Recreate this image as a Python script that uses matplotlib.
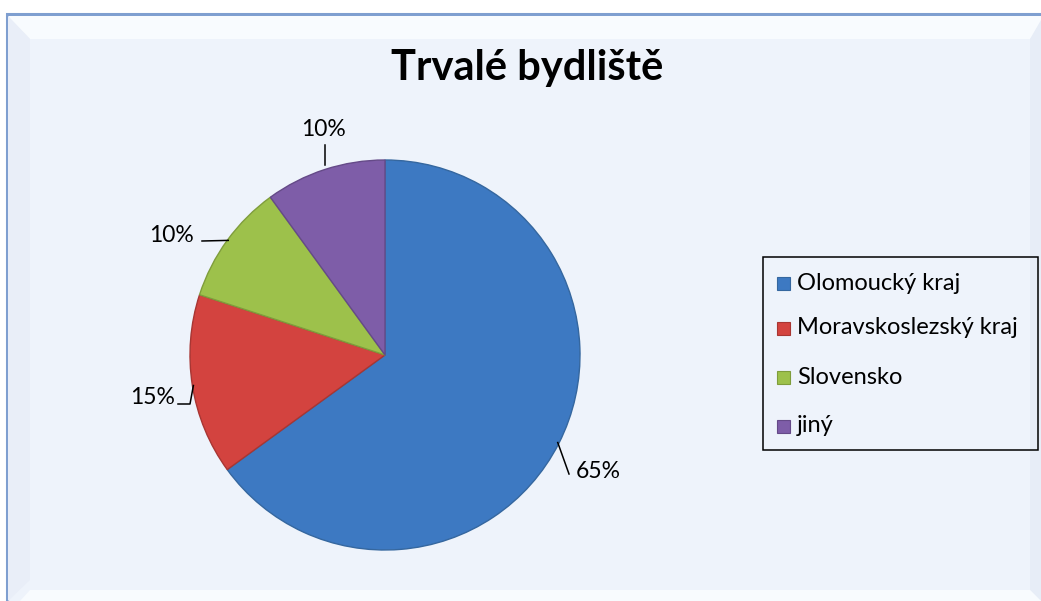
import numpy as np
import matplotlib
matplotlib.use("Agg")
import matplotlib.pyplot as plt
from matplotlib.patches import Rectangle, Polygon

# ---- data ----
title = "Trvalé bydliště"
categories = ["Olomoucký kraj", "Moravskoslezský kraj", "Slovensko", "jiný"]
values = [65, 15, 10, 10]
labels = ["65%", "15%", "10%", "10%"]
colors = ["#3d79c2", "#d3433f", "#9dc14b", "#7e5da8"]
edge_colors = ["#35679f", "#a83633", "#7f9d3c", "#654a88"]

plt.rcParams['font.family'] = ['Lato', 'DejaVu Sans']

W, H = 1041, 601
fig = plt.figure(figsize=(W / 100, H / 100), dpi=100)
fig.patch.set_facecolor("white")
ax = fig.add_axes([0, 0, 1, 1])

# pie
cx, cy, r = 385, 355, 195
wedges, _ = ax.pie(values, colors=colors, startangle=-90, counterclock=True,
                   center=(cx, cy), radius=r, frame=True,
                   wedgeprops=dict(linewidth=1.0, zorder=2))
# y axis is inverted -> counterclock in data = clockwise on screen; start at top
for w, ec in zip(wedges, edge_colors):
    w.set_edgecolor(ec)
ax.set_aspect("equal")
ax.set_xlim(0, W)
ax.set_ylim(H, 0)
ax.axis("off")

# frame and bevel
bg = "#eef3fb"
ax.add_patch(Rectangle((7, 14), W + 10, H, facecolor=bg, edgecolor="#7f9fd0", lw=2.2, zorder=0))
ax.add_patch(Polygon([(8, 16), (W + 5, 16), (W + 5, 23), (1030, 39), (30, 39)],
                     closed=True, facecolor="#f8fbfe", edgecolor="none", zorder=0.5))
ax.add_patch(Polygon([(8, 16), (30, 39), (30, 580), (8, 601)],
                     closed=True, facecolor="#e9eef8", edgecolor="none", zorder=0.5))
ax.add_patch(Polygon([(W, 20), (1030, 39), (1030, 590), (W, 601)],
                     closed=True, facecolor="#e7edf7", edgecolor="none", zorder=0.5))
ax.add_patch(Polygon([(30, 590), (1030, 590), (W, 601), (20, 601)],
                     closed=True, facecolor="#f8fbfe", edgecolor="none", zorder=0.5))

# title
ax.text(527, 80, title, ha="center", va="baseline", fontsize=30, fontweight="bold", color="black")

# labels
text_pos = [(598, 471), (153, 397), (171, 236), (323, 130)]
for lab, tp in zip(labels, text_pos):
    ax.text(tp[0], tp[1], lab, ha="center", va="center", fontsize=16.5, color="black")

# leader lines (from wedge mid-edge to label)
def mid(i):
    wdg = wedges[i]
    ang = np.deg2rad((wdg.theta1 + wdg.theta2) / 2)
    return cx + r * np.cos(ang), cy + r * np.sin(ang)

x0, y0 = mid(0)
ax.plot([x0 - 1, 569], [y0 - 1, 474], color="black", lw=1.1, zorder=3)
x1, y1 = mid(1)
ax.plot([x1 + 1, 190, 178], [y1, 404, 404], color="black", lw=1.1, zorder=3)
x2, y2 = mid(2)
ax.plot([x2 + 1, 202], [y2, 241], color="black", lw=1.1, zorder=3)
x3, y3 = mid(3)
ax.plot([x3, x3], [y3 - 5, 145], color="black", lw=1.1, zorder=3)

# legend
ax.add_patch(Rectangle((763, 257), 275, 193, facecolor="none", edgecolor="black", lw=1.1, zorder=3))
leg_y = [283, 328, 377, 426]
for cat, col, ec, yy in zip(categories, colors, edge_colors, leg_y):
    ax.add_patch(Rectangle((777, yy - 6), 13, 13, facecolor=col, edgecolor=ec, lw=0.8, zorder=4))
    ax.text(797, yy, cat, ha="left", va="center", fontsize=17, color="black", zorder=4)

fig.savefig("out.png", dpi=100, facecolor=fig.get_facecolor())
